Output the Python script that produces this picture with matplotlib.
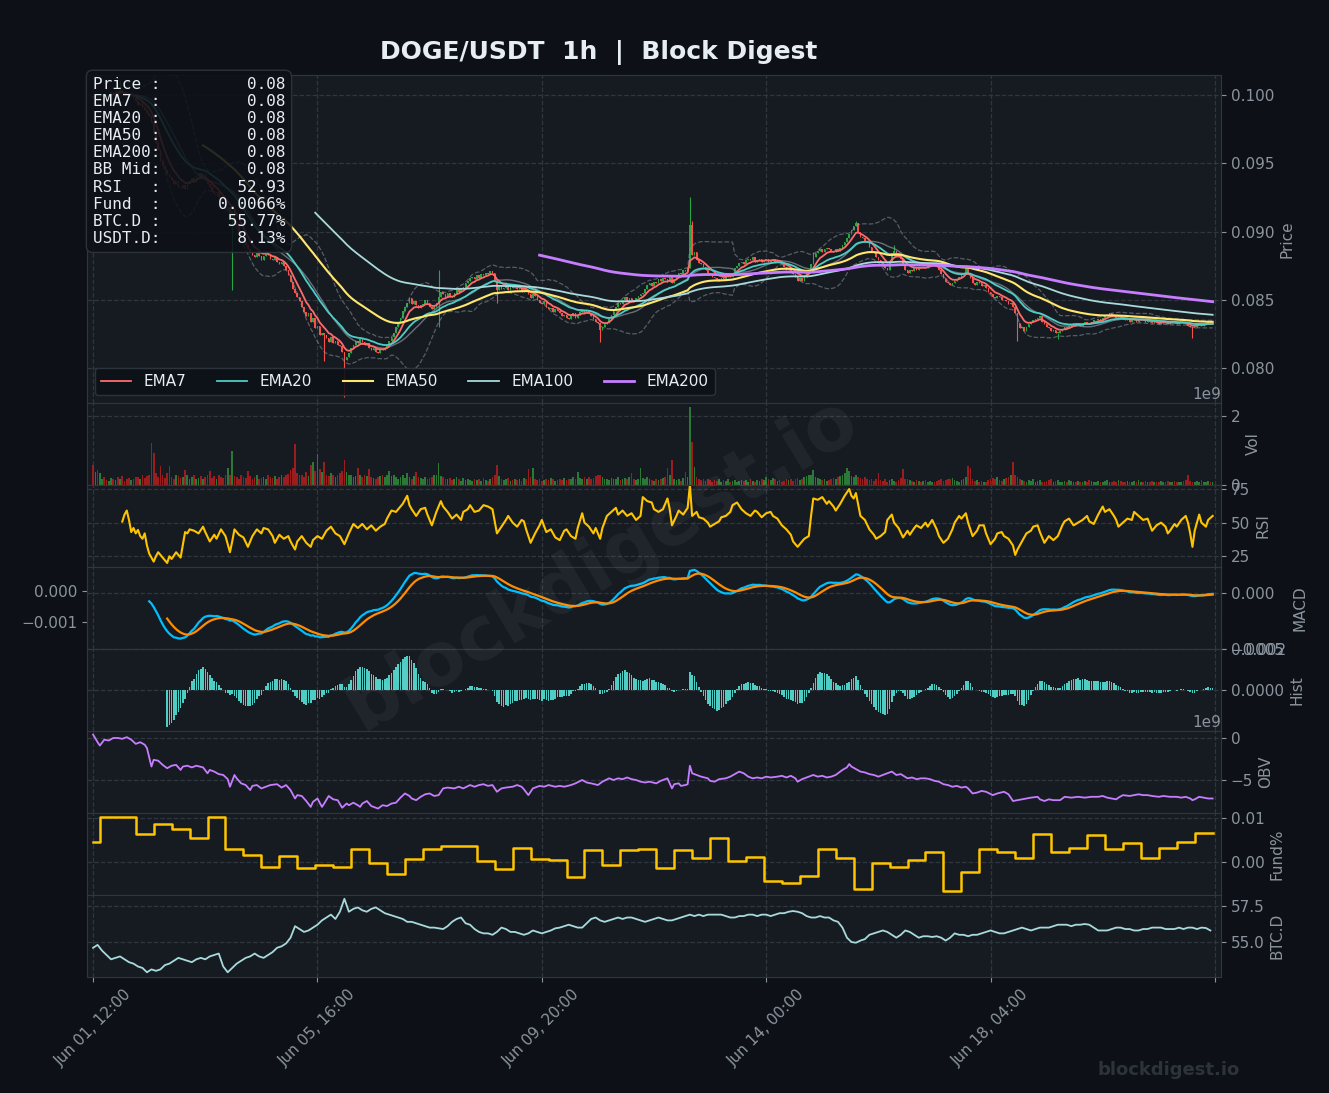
import numpy as np
import pandas as pd
import matplotlib
matplotlib.use("Agg")
import matplotlib.pyplot as plt
from matplotlib.ticker import FuncFormatter

# ---------------- data ----------------
# DOGE/USDT hourly candles starting Jun 01 12:00, prices in 1e-5 USDT
start = "2023-06-01 12:00"
open0 = 9990
close_1e5 = [
    9980, 9995, 9970, 9990, 10010, 10000, 9985, 10005, 10020, 10010, 10030, 10015, 10040, 10020, 10005, 10000, 9990, 10010, 9980, 9960,
    9930, 9945, 9910, 9890, 9870, 9850, 9800, 9720, 9650, 9600, 9520, 9480, 9450, 9420, 9400, 9380, 9350, 9370, 9330, 9320,
    9340, 9310, 9350, 9370, 9390, 9360, 9410, 9430, 9400, 9420, 9380, 9350, 9330, 9300, 9280, 9290, 9250, 9220, 9200, 9160,
    9180, 9120, 9150, 9080, 9040, 9000, 8960, 8930, 8900, 8870, 8850, 8830, 8810, 8840, 8820, 8790, 8820, 8850, 8830, 8800,
    8790, 8810, 8780, 8760, 8780, 8750, 8720, 8680, 8630, 8580, 8550, 8520, 8490, 8450, 8410, 8380, 8400, 8340, 8370, 8290,
    8310, 8240, 8260, 8240, 8220, 8190, 8230, 8180, 8200, 8170, 8160, 8120, 8060, 8080, 8110, 8150, 8170, 8200, 8180, 8210,
    8190, 8170, 8180, 8150, 8130, 8150, 8120, 8110, 8140, 8130, 8150, 8170, 8200, 8230, 8260, 8300, 8330, 8370, 8420, 8450,
    8480, 8510, 8470, 8490, 8460, 8440, 8460, 8470, 8500, 8480, 8450, 8430, 8450, 8480, 8520, 8560, 8540, 8520, 8550, 8530,
    8520, 8550, 8580, 8560, 8590, 8590, 8620, 8640, 8660, 8670, 8650, 8680, 8660, 8690, 8680, 8700, 8690, 8710, 8700, 8640,
    8570, 8600, 8580, 8590, 8610, 8570, 8600, 8590, 8600, 8580, 8590, 8560, 8580, 8570, 8540, 8510, 8540, 8530, 8500, 8480,
    8470, 8490, 8450, 8430, 8440, 8410, 8430, 8420, 8400, 8380, 8390, 8370, 8360, 8380, 8400, 8370, 8390, 8410, 8420, 8400,
    8420, 8400, 8380, 8360, 8340, 8330, 8280, 8300, 8320, 8330, 8360, 8390, 8420, 8450, 8480, 8470, 8500, 8520, 8490, 8510,
    8500, 8490, 8510, 8530, 8540, 8550, 8580, 8610, 8620, 8600, 8630, 8620, 8650, 8640, 8660, 8650, 8630, 8670, 8620, 8650,
    8680, 8700, 8690, 8720, 8710, 8730, 9050, 8830, 8850, 8790, 8770, 8760, 8740, 8720, 8700, 8690, 8670, 8660, 8640, 8650,
    8660, 8650, 8670, 8690, 8670, 8700, 8730, 8750, 8770, 8780, 8760, 8790, 8800, 8790, 8810, 8780, 8790, 8800, 8780, 8790,
    8800, 8780, 8790, 8800, 8780, 8790, 8770, 8760, 8740, 8720, 8730, 8700, 8690, 8670, 8640, 8660, 8640, 8670, 8700, 8720,
    8760, 8810, 8840, 8860, 8870, 8850, 8870, 8880, 8870, 8860, 8850, 8870, 8860, 8880, 8900, 8920, 8950, 8980, 9010, 9040,
    9060, 9000, 8960, 8950, 8930, 8920, 8890, 8860, 8840, 8810, 8790, 8770, 8750, 8730, 8720, 8780, 8840, 8860, 8840, 8820,
    8800, 8760, 8720, 8700, 8720, 8710, 8730, 8720, 8740, 8730, 8740, 8730, 8750, 8760, 8770, 8750, 8740, 8720, 8690, 8660,
    8630, 8620, 8610, 8620, 8640, 8650, 8670, 8680, 8700, 8740, 8700, 8660, 8620, 8610, 8630, 8620, 8600, 8610, 8590, 8560,
    8540, 8520, 8510, 8530, 8520, 8500, 8500, 8490, 8470, 8480, 8450, 8400, 8330, 8290, 8300, 8270, 8300, 8320, 8340, 8350,
    8360, 8370, 8380, 8340, 8320, 8300, 8290, 8270, 8280, 8260, 8260, 8270, 8280, 8300, 8290, 8310, 8320, 8330, 8320, 8330,
    8310, 8330, 8340, 8330, 8320, 8340, 8350, 8350, 8360, 8350, 8370, 8380, 8390, 8400, 8390, 8380, 8370, 8380, 8370, 8360,
    8350, 8360, 8340, 8350, 8360, 8340, 8350, 8360, 8350, 8340, 8350, 8340, 8330, 8340, 8330, 8320, 8330, 8340, 8330, 8320,
    8330, 8340, 8330, 8320, 8330, 8340, 8330, 8320, 8310, 8300, 8290, 8300, 8320, 8330, 8310, 8320, 8330, 8340, 8320, 8330,
]
# notable wicks: candle -> (high, low), 1e-5 USDT
wicks = {12: (10110, None), 62: (None, 8570), 103: (None, 8050), 112: (None, 7790),
         154: (8720, 8300), 180: (None, 8480), 226: (None, 8190), 266: (9250, None),
         267: (9080, None), 321: (8850, None), 340: (9080, None), 357: (8900, None),
         412: (None, 8200), 430: (None, 8210), 490: (None, 8220)}
# volume, 1e7 DOGE
vol_1e7 = [
    58, 39, 43, 34, 18, 22, 15, 12, 20, 16, 14, 22, 18, 25, 12, 16, 20, 14, 18, 24,
    22, 16, 28, 20, 26, 30, 123, 94, 35, 24, 55, 28, 20, 36, 55, 22, 18, 30, 25, 20,
    24, 43, 28, 18, 22, 30, 16, 20, 26, 18, 22, 30, 42, 20, 26, 18, 30, 24, 20, 28,
    48, 30, 99, 26, 22, 18, 30, 24, 20, 41, 26, 18, 22, 30, 16, 20, 24, 18, 28, 22,
    20, 26, 18, 24, 30, 22, 28, 32, 43, 48, 119, 35, 28, 30, 22, 38, 26, 58, 68, 40,
    90, 45, 38, 66, 30, 26, 34, 28, 24, 30, 36, 40, 72, 38, 28, 30, 24, 26, 48, 30,
    22, 28, 26, 45, 24, 20, 18, 22, 26, 30, 24, 28, 41, 26, 30, 22, 18, 24, 28, 20,
    34, 22, 18, 26, 39, 24, 20, 16, 22, 18, 20, 24, 28, 30, 65, 26, 22, 18, 16, 20,
    14, 18, 22, 16, 12, 20, 15, 18, 14, 12, 16, 14, 18, 12, 20, 15, 13, 16, 22, 30,
    58, 26, 18, 14, 16, 20, 12, 15, 18, 14, 16, 12, 20, 18, 46, 22, 48, 16, 14, 18,
    12, 15, 18, 14, 20, 16, 12, 14, 18, 15, 20, 14, 18, 16, 22, 18, 39, 20, 16, 24,
    18, 22, 16, 20, 26, 30, 28, 22, 18, 16, 14, 20, 18, 16, 22, 14, 18, 20, 16, 22,
    34, 18, 14, 16, 48, 20, 18, 22, 16, 14, 12, 16, 14, 18, 20, 22, 48, 30, 74, 18,
    14, 16, 12, 20, 39, 24, 227, 126, 53, 22, 18, 14, 16, 12, 18, 15, 10, 14, 12, 16,
    10, 14, 12, 16, 8, 12, 14, 10, 12, 15, 12, 14, 10, 16, 12, 10, 14, 12, 18, 15,
    22, 18, 14, 20, 16, 12, 14, 10, 12, 16, 14, 18, 12, 16, 20, 14, 18, 22, 26, 30,
    28, 43, 24, 20, 18, 14, 16, 12, 14, 18, 20, 16, 22, 26, 30, 35, 48, 40, 26, 22,
    30, 24, 20, 18, 22, 16, 14, 18, 12, 16, 34, 14, 12, 16, 10, 14, 18, 12, 10, 14,
    20, 45, 18, 16, 14, 12, 10, 14, 12, 10, 12, 14, 10, 12, 8, 10, 12, 14, 16, 12,
    14, 18, 16, 20, 14, 12, 10, 14, 18, 22, 55, 48, 16, 12, 14, 10, 12, 8, 10, 14,
    16, 20, 18, 22, 14, 12, 16, 20, 24, 30, 68, 28, 22, 18, 14, 12, 10, 14, 12, 16,
    10, 12, 14, 8, 10, 12, 14, 16, 10, 12, 14, 10, 8, 12, 10, 14, 12, 10, 8, 12,
    10, 8, 12, 10, 14, 12, 8, 10, 12, 8, 10, 12, 14, 10, 8, 12, 10, 14, 12, 10,
    8, 12, 10, 8, 12, 10, 14, 8, 10, 12, 10, 8, 12, 10, 8, 10, 12, 8, 10, 12,
    8, 10, 12, 10, 8, 10, 12, 14, 29, 12, 10, 8, 12, 10, 14, 8, 10, 12, 8, 10,
]
# RSI readings: candle index -> value
rsi_idx = [
    13, 14, 15, 16, 17, 18, 19, 20, 21, 22, 23, 24, 25, 27, 28, 29, 31, 33, 34, 35,
    37, 38, 39, 41, 42, 43, 45, 47, 49, 50, 52, 54, 55, 57, 59, 61, 62, 63, 65, 67,
    69, 71, 73, 75, 76, 78, 80, 81, 83, 85, 87, 88, 90, 91, 93, 95, 97, 98, 100, 102,
    104, 106, 108, 110, 112, 114, 116, 118, 120, 122, 124, 126, 128, 130, 131, 133, 135, 137, 138, 140,
    141, 142, 144, 146, 148, 149, 151, 153, 155, 156, 158, 160, 162, 164, 165, 167, 168, 170, 172, 174,
    176, 178, 180, 182, 184, 185, 187, 189, 191, 192, 193, 195, 197, 199, 200, 202, 204, 206, 208, 210,
    211, 213, 215, 216, 218, 219, 221, 223, 224, 226, 227, 229, 231, 233, 234, 236, 238, 240, 242, 244,
    245, 247, 249, 250, 252, 254, 256, 257, 258, 260, 261, 263, 265, 266, 267, 269, 270, 272, 274, 275,
    277, 279, 280, 282, 284, 285, 287, 289, 291, 293, 295, 296, 298, 300, 302, 303, 305, 307, 309, 311,
    312, 314, 316, 317, 319, 320, 321, 323, 325, 327, 328, 330, 331, 333, 335, 337, 338, 339, 340, 342,
    344, 346, 348, 349, 351, 353, 354, 356, 357, 359, 361, 363, 364, 366, 367, 369, 371, 372, 374, 376,
    377, 379, 381, 383, 384, 386, 387, 389, 390, 392, 394, 395, 397, 398, 400, 402, 403, 405, 406, 408,
    410, 411, 412, 414, 416, 418, 419, 421, 422, 424, 426, 428, 430, 432, 433, 435, 437, 439, 441, 443,
    444, 446, 448, 450, 451, 453, 455, 456, 457, 459, 461, 463, 464, 466, 468, 470, 472, 474, 476, 478,
    479, 480, 482, 483, 485, 487, 488, 489, 490, 491, 493, 494, 496, 497, 499,
]
rsi_val = [
    50.8, 56, 59, 52, 43, 46, 42, 44.6, 40, 38, 42, 33, 27, 21, 25, 28, 24, 20, 25, 23,
    28, 26, 24, 43, 42, 45, 44, 42, 47, 43, 36, 41, 38, 45, 40, 28, 36, 45, 41, 39,
    32, 40, 45, 42, 46, 45, 40, 35, 41, 38, 40, 36, 30, 36, 40, 35, 32, 37, 40, 38,
    44, 47, 42, 40, 34, 42, 49, 46, 49, 45, 48, 44, 47, 49, 53, 59, 58, 62, 64, 70,
    63, 60, 55, 60, 61, 56, 48, 58, 66, 62, 58, 53, 56, 52, 58, 60, 63, 58, 59, 63,
    62, 60, 42, 47, 52, 55, 50, 47, 52, 51, 45, 35, 42, 48, 52, 43, 45, 39, 37, 44,
    45, 40, 38, 46, 57, 50, 47, 42, 46, 38, 46, 55, 58, 61, 56, 59, 55, 57, 52, 55,
    69, 66, 65, 60, 58, 60, 68, 60, 48, 55, 59, 56, 61, 78, 55, 58, 54, 53, 50, 47,
    49, 51, 54, 55, 58, 63, 65, 60, 57, 55, 59, 58, 54, 57, 58, 55, 53, 48, 45, 41,
    36, 32, 36, 38, 40, 55, 68, 67, 69, 64, 66, 62, 59, 64, 70, 75, 70, 68, 72, 55,
    52, 45, 41, 38, 40, 43, 52, 56, 50, 46, 39, 44, 41, 46, 48, 46, 50, 47, 52, 45,
    40, 35, 38, 45, 50, 55, 53, 57, 50, 40, 44, 48, 48, 42, 34, 38, 42, 43, 40, 38,
    33, 26, 30, 36, 42, 44, 47, 48, 43, 35, 40, 37, 40, 48, 51, 53, 48, 50, 52, 55,
    51, 49, 56, 62, 58, 60, 55, 52, 47, 50, 53, 52, 58, 55, 52, 53, 44, 48, 50, 47,
    42, 44, 49, 47, 52, 55, 50, 42, 32, 44, 56, 50, 47, 52, 55,
]
# OBV readings (1e9): candle index -> value
obv_idx = [
    0, 2, 3, 5, 7, 9, 11, 13, 15, 17, 19, 21, 23, 24, 26, 27, 29, 31, 33, 35,
    37, 39, 40, 42, 44, 46, 49, 51, 52, 54, 56, 58, 60, 61, 63, 64, 66, 68, 70, 71,
    73, 75, 77, 79, 82, 84, 86, 88, 90, 91, 93, 95, 97, 98, 100, 102, 103, 105, 107, 109,
    111, 113, 114, 116, 118, 119, 120, 122, 124, 126, 127, 129, 131, 133, 135, 137, 139, 141, 142, 144,
    146, 148, 150, 152, 154, 156, 158, 161, 163, 165, 168, 170, 172, 174, 176, 178, 180, 182, 184, 187,
    189, 191, 192, 194, 196, 199, 201, 203, 206, 208, 210, 213, 215, 218, 220, 222, 225, 227, 230, 232,
    234, 236, 238, 240, 242, 244, 246, 248, 251, 253, 256, 258, 259, 261, 262, 264, 265, 266, 267, 269,
    271, 274, 275, 277, 279, 282, 284, 286, 288, 290, 292, 294, 296, 298, 300, 302, 305, 307, 309, 311,
    313, 314, 316, 318, 321, 323, 325, 327, 329, 331, 334, 336, 337, 338, 340, 342, 344, 346, 348, 350,
    352, 354, 356, 358, 360, 363, 365, 367, 369, 371, 373, 375, 377, 379, 381, 383, 385, 387, 389, 390,
    392, 394, 396, 398, 401, 403, 406, 408, 410, 412, 414, 416, 418, 421, 422, 424, 426, 428, 431, 433,
    436, 439, 442, 445, 448, 450, 452, 454, 456, 457, 459, 462, 464, 466, 468, 470, 472, 475, 477, 480,
    483, 485, 487, 489, 490, 491, 493, 495, 497, 499,
]
obv_val = [
    0.4, -0.5, -0.9, -0.2, -0.3, 0.0, 0.0, -0.1, 0.1, -0.2, -0.7, -0.5, -0.8, -1.2, -3.4, -2.6, -2.7, -3.2, -3.6, -3.3,
    -3.2, -3.8, -3.4, -3.3, -3.5, -3.3, -3.5, -4.2, -3.8, -4.0, -4.3, -4.4, -4.9, -5.8, -4.4, -4.8, -5.4, -5.6, -6.2, -5.7,
    -5.6, -6.0, -5.8, -5.6, -5.5, -5.9, -5.6, -6.2, -7.2, -6.8, -6.9, -7.5, -8.2, -7.6, -7.2, -8.2, -7.8, -6.9, -7.3, -7.4,
    -8.3, -7.8, -8.0, -7.7, -8.0, -8.2, -7.8, -7.5, -8.1, -8.3, -8.4, -8.0, -8.1, -7.8, -7.7, -7.1, -6.6, -6.9, -7.2, -7.4,
    -7.0, -6.7, -6.6, -6.9, -6.8, -6.0, -5.9, -6.0, -5.8, -6.0, -5.6, -5.8, -5.6, -5.5, -5.7, -5.6, -6.4, -6.0, -5.9, -5.8,
    -5.6, -5.8, -6.1, -6.8, -6.0, -5.7, -5.8, -5.6, -5.8, -5.7, -5.8, -5.6, -5.4, -5.0, -5.3, -5.4, -5.6, -5.2, -4.8, -5.0,
    -4.8, -4.9, -4.7, -4.9, -5.0, -5.2, -5.3, -5.2, -5.4, -5.1, -4.8, -6.0, -5.5, -5.4, -5.7, -5.6, -5.5, -3.3, -4.2, -4.4,
    -4.6, -4.8, -5.1, -5.2, -4.9, -4.8, -4.6, -4.3, -4.0, -4.2, -4.6, -4.8, -4.7, -4.8, -4.6, -4.7, -4.6, -4.5, -4.7, -4.5,
    -4.8, -5.2, -4.9, -4.7, -4.4, -4.6, -4.5, -4.7, -4.6, -4.4, -3.8, -3.5, -3.1, -3.4, -3.7, -4.0, -4.1, -4.3, -4.4, -4.6,
    -4.4, -4.2, -4.0, -4.4, -4.3, -4.8, -4.7, -4.9, -4.8, -4.8, -4.9, -5.1, -5.2, -5.5, -5.6, -5.8, -5.7, -5.9, -5.8, -6.0,
    -6.6, -6.5, -6.3, -6.4, -6.8, -6.6, -6.4, -6.7, -7.5, -7.4, -7.3, -7.2, -7.1, -7.0, -7.3, -7.5, -7.3, -7.4, -7.4, -7.0,
    -7.1, -7.0, -7.1, -7.0, -7.0, -6.9, -7.1, -7.2, -7.3, -7.1, -6.8, -6.9, -6.8, -6.7, -6.8, -6.8, -6.9, -7.0, -6.9, -7.0,
    -7.0, -7.1, -7.0, -7.2, -7.4, -7.3, -7.0, -7.1, -7.2, -7.2,
]
# BTC dominance (%), one reading every 2 candles
btcd_2h = [
    54.6, 54.8, 54.4, 54.1, 53.8, 53.9, 54.0, 53.8, 53.6, 53.5, 53.3, 53.2, 52.9, 53.1, 53.0, 53.1, 53.4, 53.5, 53.7, 53.9, 53.8, 53.7, 53.6, 53.8, 53.9,
    53.8, 54.0, 54.1, 54.2, 53.3, 52.9, 53.2, 53.5, 53.7, 53.9, 54.0, 54.2, 54.0, 53.9, 54.1, 54.3, 54.6, 54.7, 54.9, 55.3, 56.1, 55.9, 55.7, 55.8, 56.0,
    56.2, 56.5, 56.7, 56.9, 56.6, 57.1, 58.0, 57.1, 57.3, 57.4, 57.2, 57.1, 57.3, 57.4, 57.2, 57.0, 56.9, 56.8, 56.7, 56.6, 56.4, 56.4, 56.3, 56.2, 56.1,
    56.0, 56.0, 55.95, 55.9, 56.1, 56.4, 56.6, 56.7, 56.3, 56.2, 55.9, 55.7, 55.6, 55.6, 55.5, 55.7, 56.0, 55.9, 55.7, 55.7, 55.6, 55.5, 55.6, 55.8, 55.7,
    55.6, 55.7, 55.8, 55.95, 56.0, 56.1, 56.2, 56.1, 56.0, 56.0, 56.3, 56.6, 56.7, 56.5, 56.4, 56.5, 56.6, 56.7, 56.6, 56.7, 56.7, 56.6, 56.5, 56.4, 56.5,
    56.6, 56.7, 56.6, 56.5, 56.5, 56.6, 56.7, 56.8, 56.9, 56.8, 56.9, 56.8, 56.9, 56.9, 56.9, 56.9, 56.8, 56.7, 56.7, 56.8, 56.8, 56.9, 56.9, 56.8, 56.9,
    56.9, 56.8, 56.9, 57.0, 57.0, 57.1, 57.15, 57.1, 57.0, 56.8, 56.7, 56.7, 56.8, 56.7, 56.7, 56.5, 56.4, 56.0, 55.3, 55.0, 54.95, 55.1, 55.2, 55.5, 55.6,
    55.7, 55.8, 55.7, 55.5, 55.3, 55.5, 55.8, 55.7, 55.5, 55.3, 55.4, 55.4, 55.35, 55.4, 55.3, 55.1, 55.3, 55.6, 55.5, 55.5, 55.4, 55.5, 55.5, 55.6, 55.7,
    55.8, 55.7, 55.6, 55.6, 55.7, 55.8, 55.9, 56.0, 55.9, 55.8, 55.9, 56.0, 56.0, 56.0, 56.1, 56.2, 56.2, 56.2, 56.1, 56.2, 56.2, 56.25, 56.2, 56.0, 55.8,
    55.8, 55.8, 55.9, 56.0, 56.0, 55.9, 55.9, 55.8, 55.8, 55.9, 55.9, 56.0, 56.0, 56.0, 55.9, 55.9, 55.9, 56.0, 55.9, 56.0, 56.0, 55.9, 56.0, 55.97, 55.8,
]
# funding rate (%), first value covers candles 0-2, then one per 8h from candle 3
fund = [
    0.0045, 0.0102, 0.0102, 0.0064, 0.0086, 0.0075, 0.0055, 0.0102, 0.0030, 0.0016,
    -0.0011, 0.0014, -0.0014, -0.0007, -0.0011, 0.0030, -0.0002, -0.0027, 0.0007, 0.0030,
    0.0036, 0.0036, 0.0002, -0.0016, 0.0032, 0.0007, 0.0005, -0.0034, 0.0027, -0.0007,
    0.0027, 0.0030, -0.0014, 0.0027, 0.0009, 0.0055, 0.0002, 0.0011, -0.0043, -0.0048,
    -0.0032, 0.0030, 0.0009, -0.0061, -0.0002, -0.0011, 0.0005, 0.0023, -0.0066, -0.0023,
    0.0030, 0.0023, 0.0009, 0.0064, 0.0023, 0.0032, 0.0061, 0.0030, 0.0043, 0.0009,
    0.0032, 0.0045, 0.0066, 0.0066,
]
info_labels = ["Price", "EMA7", "EMA20", "EMA50", "EMA200", "BB Mid",
               "RSI", "Fund", "BTC.D", "USDT.D"]
info_values = ["0.08", "0.08", "0.08", "0.08", "0.08", "0.08",
               "52.93", "0.0066%", "55.77%", "8.13%"]

# ---------------- colours ----------------
BG = "#0d1117"
PANEL = "#161b22"
GRID = "#30363d"
TXT = "#8b949e"
GREEN = "#26a641"
RED = "#f85149"

n = len(close_1e5)
x = np.arange(n)
dates = pd.date_range(start, periods=n, freq="h")
c = np.array(close_1e5) / 1e5
o = np.r_[open0, close_1e5[:-1]] / 1e5
hi = np.maximum(o, c)
lo = np.minimum(o, c)
for i, (h, l) in wicks.items():
    if h:
        hi[i] = h / 1e5
    if l:
        lo[i] = l / 1e5
up = c >= o
cols = np.where(up, GREEN, RED)
vcols = np.where(up, "#2a7a35", "#9c1d1d")
vol = np.array(vol_1e7) * 1e7

# indicators computed from the candles
s = pd.Series(c)
emas = {p: s.ewm(span=p, adjust=False, min_periods=p).mean() for p in (7, 20, 50, 100, 200)}
bb_mid = s.rolling(20).mean()
bb_sd = s.rolling(20).std()
macd = (s.ewm(span=12, adjust=False, min_periods=12).mean()
        - s.ewm(span=26, adjust=False, min_periods=26).mean())
signal = macd.ewm(span=9, adjust=False, min_periods=9).mean()
hist = macd - signal

# ---------------- figure ----------------
fig = plt.figure(figsize=(13.29, 10.93), dpi=100, facecolor=BG)
gs = fig.add_gridspec(8, 1, height_ratios=[4, 1, 1, 1, 1, 1, 1, 1], hspace=0,
                      left=0.0655, right=0.9187, top=0.9314, bottom=0.1061)
axes = [fig.add_subplot(gs[0])]
for k in range(1, 8):
    axes.append(fig.add_subplot(gs[k], sharex=axes[0]))
ax_p, ax_v, ax_r, ax_m, ax_h, ax_o, ax_f, ax_b = axes

# second MACD scale on the left (twinx moves the parent's ticks, so build it first)
ax_m2 = ax_m.twinx()
ax_m2.yaxis.tick_left()

names = ["Price", "Vol", "RSI", "MACD", "Hist", "OBV", "Fund%", "BTC.D"]
for ax, name in zip(axes, names):
    ax.set_facecolor(PANEL)
    for sp in ax.spines.values():
        sp.set_color(GRID)
    ax.yaxis.tick_right()
    ax.yaxis.set_label_position("right")
    ax.set_ylabel(name, color=TXT, fontsize=11)
    ax.tick_params(colors=TXT, labelsize=11)
    ax.yaxis.get_offset_text().set_color(TXT)
    ax.yaxis.get_offset_text().set_fontsize(11)
    ax.grid(True, color=GRID, linestyle="--", linewidth=0.9)
    ax.set_axisbelow(True)
    if ax is not ax_b:
        ax.tick_params(axis="x", length=0, labelbottom=False)

# price panel
ax_p.vlines(x, lo, hi, colors=cols, linewidth=0.8, zorder=2)
ax_p.bar(x, np.maximum(np.abs(c - o), 1.2e-5), bottom=np.minimum(o, c),
         width=0.7, color=cols, zorder=2)
ax_p.plot(x, bb_mid + 2 * bb_sd, color=TXT, ls="--", lw=0.9, alpha=0.55, zorder=3)
ax_p.plot(x, bb_mid - 2 * bb_sd, color=TXT, ls="--", lw=0.9, alpha=0.55, zorder=3)
ax_p.plot(x, bb_mid, color=TXT, lw=1.0, alpha=0.7, zorder=3)
ema_style = {7: ("#ff6b6b", 1.3), 20: ("#4ecdc4", 1.3), 50: ("#ffe66d", 1.5),
             100: ("#a8dadc", 1.3), 200: ("#c77dff", 2.0)}
for p, (col, lw) in ema_style.items():
    ax_p.plot(x, emas[p], color=col, lw=lw, label=f"EMA{p}", zorder=4)
ax_p.set_ylim(0.07744, 0.10147)
ax_p.set_yticks([0.080, 0.085, 0.090, 0.095, 0.100])
ax_p.yaxis.set_major_formatter(FuncFormatter(lambda v, _: f"{v:.3f}"))
leg = ax_p.legend(loc="lower left", ncol=5, fontsize=11, facecolor=BG,
                  edgecolor=GRID, framealpha=0.9)
for t in leg.get_texts():
    t.set_color("#e6edf3")

info = "\n".join(f"{lab:<6}:{val:>13}" for lab, val in zip(info_labels, info_values))
ax_p.text(0.005, 0.995, info, transform=ax_p.transAxes, va="top", ha="left",
          family="DejaVu Sans Mono", fontsize=11.5, color="#e6edf3", linespacing=1.18,
          zorder=10, bbox=dict(boxstyle="round,pad=0.4", fc=BG, ec=GRID, alpha=0.88))

# volume
ax_v.bar(x, vol, width=0.75, color=vcols)
ax_v.set_ylim(0, 2.38e9)
ax_v.set_yticks([0, 2e9])

# RSI
ax_r.plot(rsi_idx, rsi_val, color="#ffc400", lw=1.5)
ax_r.set_ylim(17, 78)
ax_r.set_yticks([25, 50, 75])

# MACD (right scale) and the left-hand scale
ax_m.plot(x, macd, color="#00bfff", lw=1.6)
ax_m.plot(x, signal, color="#ff8c00", lw=1.6)
ax_m.set_ylim(-0.002, 0.00093)
ax_m.set_yticks([-0.002, 0.0])
ax_m2.set_ylim(-0.00187, 0.00077)
ax_m2.set_yticks([-0.001, 0.0])
ax_m2.tick_params(colors=TXT, labelsize=11)
for sp in ax_m2.spines.values():
    sp.set_color(GRID)

# histogram
ax_h.bar(x, hist, width=0.7, color="#4ecdc4")
ax_h.set_ylim(-0.0005, 0.0005)
ax_h.set_yticks([0.0, 0.0005])

# OBV
ax_o.plot(obv_idx, np.array(obv_val) * 1e9, color="#c77dff", lw=1.3)
ax_o.set_ylim(-8.93e9, 0.83e9)
ax_o.set_yticks([-5e9, 0])

# funding
fx = [0] + [3 + 8 * k for k in range(len(fund) - 1)] + [n - 1]
ax_f.step(fx, fund + [fund[-1]], where="post", color="#ffc400", lw=1.8)
ax_f.set_ylim(-0.0075, 0.0111)
ax_f.set_yticks([0.0, 0.01])

# BTC dominance
ax_b.plot(np.arange(len(btcd_2h)) * 2, btcd_2h, color="#a8dadc", lw=1.3)
ax_b.set_ylim(52.57, 58.26)
ax_b.set_yticks([55.0, 57.5])

ax_b.set_xlim(-2.7, n + 2.7)
ax_b.set_xticks(range(0, n + 1, 100))
ax_b.xaxis.set_major_formatter(FuncFormatter(
    lambda v, _: dates[int(v)].strftime("%b %d, %H:%M") if 0 <= v < n else ""))
ax_b.tick_params(axis="x", rotation=45, colors=TXT, labelsize=11)

fig.text(0.4507, 0.952, "DOGE/USDT  1h  |  Block Digest", ha="center", va="center",
         fontsize=18, fontweight="bold", color="#e6edf3")
fig.text(0.453, 0.485, "blockdigest.io", ha="center", va="center", rotation=31,
         fontsize=53, fontweight="bold", color="white", alpha=0.05)
fig.text(0.933, 0.021, "blockdigest.io", ha="right", va="center",
         fontsize=13, fontweight="bold", color="#2d333b")

fig.savefig("out.png", dpi=100, facecolor=BG)
